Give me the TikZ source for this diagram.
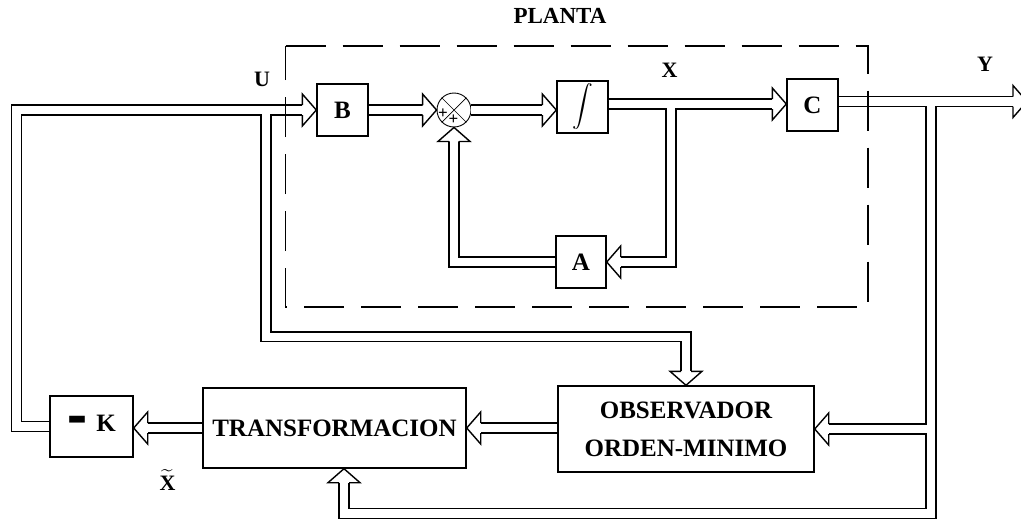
\documentclass[tikz,border=0pt]{standalone}
\usepackage{amsmath}
\usepackage{fontspec}
\setmainfont{Liberation Serif}
\usepackage{graphicx}
\usetikzlibrary{calc}
\begin{document}
\begin{tikzpicture}[x=1pt,y=-1pt,
  box/.style={draw,line width=1.4pt,inner sep=0pt,font=\bfseries\fontsize{25}{38}\selectfont},
  lbl/.style={inner sep=0pt,font=\bfseries\fontsize{22}{24}\selectfont},
  dl/.style={draw,line width=1.4pt,double=white,double distance=8.5pt,line join=miter},
  htip/.pic={\filldraw[fill=white,line width=1.4pt,line join=miter] (-14,5) -- (-14,16) -- (0,0) -- (-14,-16) -- (-14,-5);}
]
\useasboundingbox (0,0) rectangle (1021,520);
\clip (0,0) rectangle (1021,520);
\fill[white] (0,0) rectangle (1021,520);

% blocks
\node[box,minimum width=51pt,minimum height=52pt] (B) at (342.5,110) {B};
\node[draw,circle,line width=0.9pt,minimum size=34pt,inner sep=0pt] (S) at (454,110) {};
\draw[line width=0.7pt] (S.north west) -- (S.south east) (S.north east) -- (S.south west);
\node[inner sep=0pt,font=\bfseries\fontsize{17}{17}\selectfont] (p1) at (443,114) {+};
\node[inner sep=0pt,font=\bfseries\fontsize{17}{17}\selectfont] (p2) at (453.5,119.5) {+};
\node[box,minimum width=51pt,minimum height=52pt,font=\fontsize{21}{24}\selectfont] (I) at (582.5,107) {$\displaystyle\int$};
\node[box,minimum width=50pt,minimum height=52pt] (A) at (581,262) {A};
\node[box,minimum width=51pt,minimum height=52pt] (C) at (812.5,105) {C};
\node[box,minimum width=83pt,minimum height=61pt] (K) at (91.5,426.5) {\raisebox{-7pt}{\scalebox{2.4}[3.2]{-}}\hspace{9pt}K};
\node[box,minimum width=263pt,minimum height=80pt] (T) at (334.5,428) {TRANSFORMACION};
\node[box,minimum width=256pt,minimum height=86pt,align=center] (O) at (686,429) {OBSERVADOR\\ORDEN-MINIMO};

% labels
\node[lbl,font=\bfseries\fontsize{23}{24}\selectfont] (PL) at (560,16) {PLANTA};
\node[lbl] (U) at (262,79) {U};
\node[lbl] (X) at (669.5,70) {X};
\node[lbl] (Y) at (985,64) {Y};
\node[lbl] (Xt) at (167.5,480) {$\widetilde{\text{X}}$};

% helper coordinates
\coordinate (ul) at (16.5,110);
\coordinate (ub) at (266,110);
\coordinate (xo) at (671,104);
\coordinate (yo) at (931,101.5);
\coordinate (yb) at (931,513.5);
\coordinate (Yend) at (1027,101.5);

% connectors (double lines)
\draw[dl] (K.west) -| (ul) -- ($(B.west)+(-14,0)$)
  (ub) |- ($(O.north)+(0,-48.5)$) -- ($(O.north)+(0,-14)$);
\draw[dl] (B.east) -- ($(S.west)+(-14,0)$);
\draw[dl] (S.east) -- ($(S.east -| I.west)+(-14,0)$);
\draw[dl] (I.east |- xo) -- ($(C.west |- xo)+(-14,0)$)
  (xo) |- ($(A.east)+(14,0)$);
\draw[dl] (A.west) -| ($(S.south)+(0,14)$);
\draw[dl] (C.east |- yo) -- ($(Yend)+(-14,0)$)
  (yo) -- (yb) -| ($(T.south)+(9.5,14)$)
  (yo |- O.east) -- ($(O.east)+(14,0)$);
\draw[dl] (O.west |- T.east) -- ($(T.east)+(14,0)$);
\draw[dl] (T.west) -- ($(T.west -| K.east)+(14,0)$);

% arrow heads
\pic at (B.west) {htip};
\pic at (S.west) {htip};
\pic at (S.east -| I.west) {htip};
\pic at (C.west |- xo) {htip};
\pic at (Yend) {htip};
\pic[rotate=180] at (A.east) {htip};
\pic[rotate=90] at (S.south) {htip};
\pic[rotate=-90] at (O.north) {htip};
\pic[rotate=180] at (O.east) {htip};
\pic[rotate=90] at ($(T.south)+(9.5,0)$) {htip};
\pic[rotate=180] at (T.east) {htip};
\pic[rotate=180] at (T.west -| K.east) {htip};

% plant boundary
\draw[line width=1.4pt,dash pattern=on 40pt off 17pt] (285.5,46) -- (868,46) -- (868,307) -- (285.5,307) -- cycle;
\end{tikzpicture}
\end{document}
